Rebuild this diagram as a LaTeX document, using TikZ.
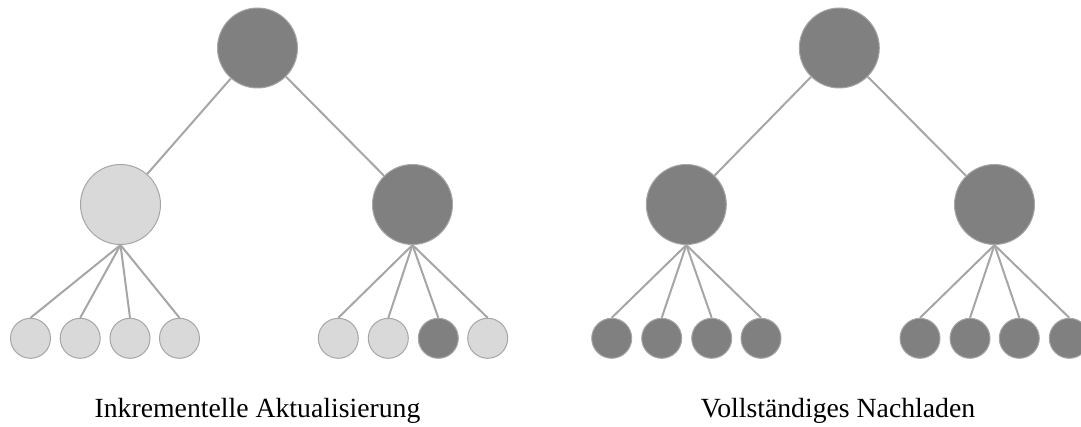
\documentclass[tikz,border=0pt]{standalone}
\usepackage{fontspec}
\setmainfont{Liberation Serif}

\definecolor{fullgrey}{RGB}{128,128,128}
\definecolor{palegrey}{RGB}{217,217,217}
\definecolor{edgegrey}{RGB}{166,166,166}

\tikzset{every picture/.style={line width=0.75pt}}
\tikzset{
  bignode/.style={circle, draw=edgegrey, line width=0.75pt, inner sep=0pt, minimum size=60pt},
  leafnode/.style={circle, draw=edgegrey, line width=0.75pt, inner sep=0pt, minimum size=30pt},
  loaded/.style={fill=fullgrey},
  cached/.style={fill=palegrey},
  treeedge/.style={draw=edgegrey, line width=1.5pt},
  caption/.style={anchor=base, inner sep=0.75pt, font=\fontsize{20.8pt}{24pt}\selectfont}
}

\begin{document}
\begin{tikzpicture}[x=0.75pt,y=0.75pt,yscale=-1,xscale=1]
    \path[use as bounding box] (0,0) rectangle (1081,427);

    % Left tree: only one leaf reloaded
    \node [bignode, loaded] (rootL) at (257.5,48) {};
    \node [bignode, cached] (midL1) at (120.5,204.5) {};
    \node [bignode, loaded] (midL2) at (412.5,204.5) {};
    % Leaves
    \node [leafnode, cached] (leafL1) at (30.5,338.3) {};
    \node [leafnode, cached] (leafL2) at (80.2,338.3) {};
    \node [leafnode, cached] (leafL3) at (130,338.3) {};
    \node [leafnode, cached] (leafL4) at (179.5,338.3) {};
    \node [leafnode, cached] (leafL5) at (338.3,338.3) {};
    \node [leafnode, cached] (leafL6) at (388.3,338.3) {};
    \node [leafnode, loaded] (leafL7) at (438.3,338.3) {};
    \node [leafnode, cached] (leafL8) at (487.7,338.3) {};

    % Right tree: everything reloaded
    \node [bignode, loaded] (rootR) at (839.3,48) {};
    \node [bignode, loaded] (midR1) at (686.3,204.5) {};
    \node [bignode, loaded] (midR2) at (994.5,204.5) {};
    % Leaves
    \node [leafnode, loaded] (leafR1) at (611.7,338.3) {};
    \node [leafnode, loaded] (leafR2) at (661.7,338.3) {};
    \node [leafnode, loaded] (leafR3) at (711.7,338.3) {};
    \node [leafnode, loaded] (leafR4) at (761,338.3) {};
    \node [leafnode, loaded] (leafR5) at (920,338.3) {};
    \node [leafnode, loaded] (leafR6) at (970,338.3) {};
    \node [leafnode, loaded] (leafR7) at (1019.3,338.3) {};
    \node [leafnode, loaded] (leafR8) at (1069.3,338.3) {};

    % Edges
    \draw [treeedge] (rootL) -- (midL1);
    \draw [treeedge] (rootL) -- (midL2);
    \draw [treeedge] (midL1.south) -- (leafL1.north);
    \draw [treeedge] (midL1.south) -- (leafL2.north);
    \draw [treeedge] (midL1.south) -- (leafL3.north);
    \draw [treeedge] (midL1.south) -- (leafL4.north);
    \draw [treeedge] (midL2.south) -- (leafL5.north);
    \draw [treeedge] (midL2.south) -- (leafL6.north);
    \draw [treeedge] (midL2.south) -- (leafL7.north);
    \draw [treeedge] (midL2.south) -- (leafL8.north);

    \draw [treeedge] (rootR) -- (midR1);
    \draw [treeedge] (rootR) -- (midR2);
    \draw [treeedge] (midR1.south) -- (leafR1.north);
    \draw [treeedge] (midR1.south) -- (leafR2.north);
    \draw [treeedge] (midR1.south) -- (leafR3.north);
    \draw [treeedge] (midR1.south) -- (leafR4.north);
    \draw [treeedge] (midR2.south) -- (leafR5.north);
    \draw [treeedge] (midR2.south) -- (leafR6.north);
    \draw [treeedge] (midR2.south) -- (leafR7.north);
    \draw [treeedge] (midR2.south) -- (leafR8.north);

    % Text Node
    \node [caption] (captionL) at (257.5,417) {Inkrementelle Aktualisierung};
    % Text Node
    \node [caption] (captionR) at (838,417) {Vollständiges Nachladen};
\end{tikzpicture}
\end{document}
